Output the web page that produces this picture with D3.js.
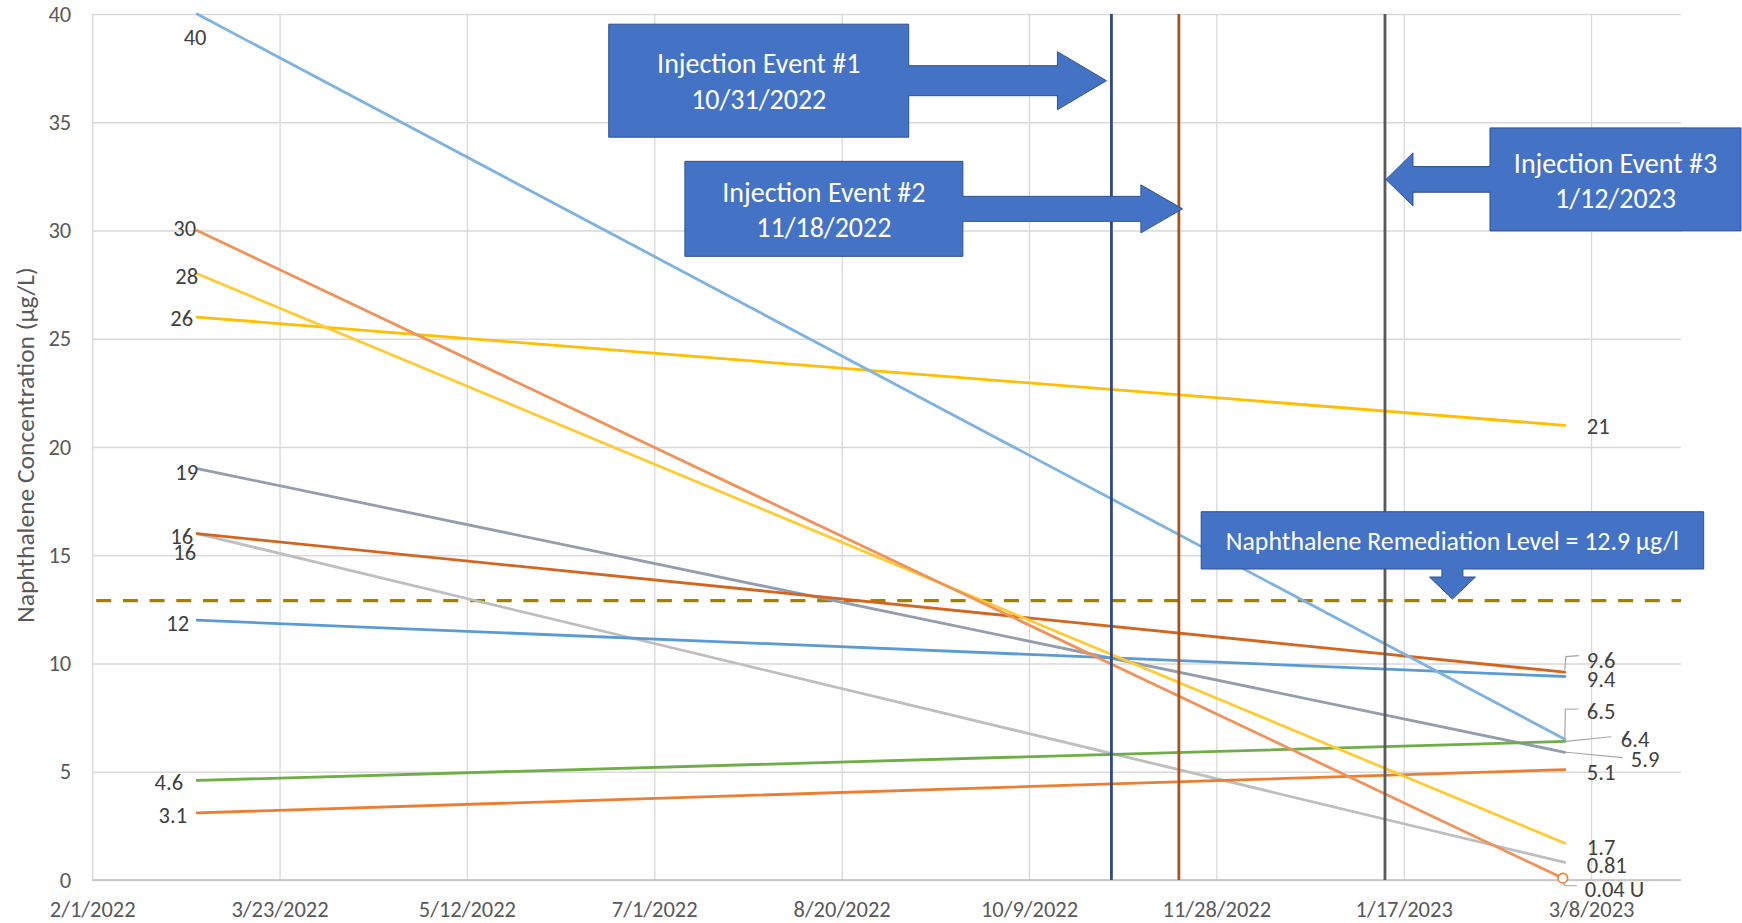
<!DOCTYPE html>
<html>
<head>
<meta charset="utf-8">
<script src="https://cdn.jsdelivr.net/npm/d3@7"></script>
<style>
  html, body { margin: 0; padding: 0; background: #fff; }
  svg { display: block; font-family: Calibri, Lato, "Open Sans", sans-serif; }
</style>
</head>
<body>
<svg id="chart" width="1742" height="923"></svg>
<script>
// ---- data ----
const xTickLabels = ["2/1/2022", "3/23/2022", "5/12/2022", "7/1/2022", "8/20/2022",
                     "10/9/2022", "11/28/2022", "1/17/2023", "3/8/2023"];
const xDomainDates = ["2/1/2022", "4/1/2023"];
const yTickValues = [0, 5, 10, 15, 20, 25, 30, 35, 40];
const sampleDates = ["3/1/2022", "3/1/2023"];
const firstValues = [40, 30, 28, 26, 19, 16, 16, 12, 4.6, 3.1];
const lastValues  = [6.5, 0.04, 1.7, 21, 5.9, 9.6, 0.81, 9.4, 6.4, 5.1];
const firstLabels = ["40", "30", "28", "26", "19", "16", "16", "12", "4.6", "3.1"];
const lastLabels  = ["6.5", "0.04 U", "1.7", "21", "5.9", "9.6", "0.81", "9.4", "6.4", "5.1"];
const injectionDates  = ["10/31/2022", "11/18/2022", "1/12/2023"];
const injectionTitles = ["Injection Event #1", "Injection Event #2", "Injection Event #3"];
const remediationLevel = 12.9;
const remediationText = "Naphthalene Remediation Level = 12.9 µg/l";
const yAxisTitle = "Naphthalene Concentration (µg/L)";

// ---- styles ----
const lineColors = ["#7EB2E1", "#F0925A", "#FFCB33", "#FFBE00", "#929DB0",
                    "#D4651F", "#BEBEBE", "#5B9BD5", "#70AD47", "#ED7D31"];
const eventColors = ["#2E4A86", "#A8531B", "#595959"];
const tickFont = 22.5, labelFont = 22.5;
// label placement relative to each series' first / last point
const firstLabelPos = [
  { anchor: "middle", dx: -2, dy: 23 }, { anchor: "end", dx: -1, dy: -2.5 },
  { anchor: "end", dx: 1, dy: 2 },      { anchor: "end", dx: -4, dy: 1 },
  { anchor: "end", dx: 1, dy: 3 },      { anchor: "end", dx: -4, dy: 2.5 },
  { anchor: "end", dx: -1, dy: 18 },    { anchor: "end", dx: -8, dy: 3 },
  { anchor: "end", dx: -14, dy: 1 },    { anchor: "end", dx: -10, dy: 2 }
];
const lastLabelPos = [
  { dx: 22, dy: -28, leader: [[0, 0], [0.5, -30], [14, -30.3]] },
  { dx: 20, dy: 10, leader: [[-2, 4], [0, 6.6], [12, 6.6]] },
  { dx: 22, dy: 4 },
  { dx: 22, dy: 1 },
  { dx: 66, dy: 7, leader: [[1, 0], [58, 5.4]] },
  { dx: 22, dy: -12, leader: [[0, -2], [1, -15.5], [14, -16.5]] },
  { dx: 22, dy: 2.5 },
  { dx: 22, dy: 2.5 },
  { dx: 56, dy: -3, leader: [[1, 0], [46.5, -4.7]] },
  { dx: 22, dy: 2.5 }
];
const calloutLayout = [
  { dir: "right", dx: -5,  tipValue: 36.92, boxW: 300, boxH: 113, gap: 197.7, shaft: 15,    head: 29,   headLen: 49,   textDy: [-17.5, 18.5] },
  { dir: "right", dx: 3.6, tipValue: 31.0,  boxW: 278, boxH: 95,  gap: 219.6, shaft: 12.5,  head: 24,   headLen: 41.6, textDy: [-16.5, 18.5] },
  { dir: "left",  dx: 1,   tipValue: 32.36, boxW: 251, boxH: 103, gap: 104,   shaft: 12.85, head: 26.5, headLen: 27,   textDy: [-16.8, 18.2] }
];
const remediationCallout = { date: "1/30/2023", dy: -1.7, boxW: 502.5, boxH: 57.3, gap: 30, shaft: 10.5, head: 23, headLen: 22 };

// ---- setup ----
const parse = d3.utcParse("%m/%d/%Y");
const svg = d3.select("#chart");
const plot = { left: 92.2, right: 1681, top: 14, bottom: 880 };

const x = d3.scaleUtc().domain(xDomainDates.map(parse)).range([plot.left, plot.right]);
const y = d3.scaleLinear().domain([0, 40]).range([plot.bottom, plot.top]);

svg.append("rect").attr("width", 1742).attr("height", 923).attr("fill", "#fff");

// y gridlines + tick labels
const yAxis = svg.append("g")
  .attr("transform", `translate(${plot.left},0)`)
  .call(d3.axisLeft(y).tickValues(yTickValues).tickSizeInner(-(plot.right - plot.left))
    .tickSizeOuter(0).tickPadding(21));
yAxis.select(".domain").remove();
yAxis.selectAll(".tick line").attr("stroke", "#D9D9D9").attr("stroke-width", 1.3);
yAxis.selectAll(".tick text").attr("fill", "#595959").attr("font-size", tickFont)
  .attr("font-family", "Calibri, Lato, 'Open Sans', sans-serif");

// x gridlines + tick labels
const tickDates = xTickLabels.map(parse);
const xAxis = svg.append("g")
  .attr("transform", `translate(0,${plot.bottom})`)
  .call(d3.axisBottom(x).tickValues(tickDates).tickSizeInner(-(plot.bottom - plot.top))
    .tickSizeOuter(0).tickPadding(21).tickFormat((d, i) => xTickLabels[i]));
xAxis.select(".domain").remove();
xAxis.selectAll(".tick line").attr("stroke", "#D9D9D9").attr("stroke-width", 1.3);
xAxis.selectAll(".tick text").attr("fill", "#595959").attr("font-size", tickFont)
  .attr("font-family", "Calibri, Lato, 'Open Sans', sans-serif");

// category axis baseline
svg.append("line")
  .attr("x1", plot.left).attr("x2", plot.right)
  .attr("y1", y(0)).attr("y2", y(0))
  .attr("stroke", "#BFBFBF").attr("stroke-width", 1.4);

// y axis title
svg.append("text")
  .attr("transform", `translate(25,445) rotate(-90)`)
  .attr("text-anchor", "middle").attr("dy", "0.36em")
  .attr("fill", "#595959").attr("font-size", 25.5)
  .text(yAxisTitle);

// remediation level (dashed)
svg.append("line")
  .attr("x1", plot.left).attr("x2", plot.right)
  .attr("y1", y(remediationLevel)).attr("y2", y(remediationLevel))
  .attr("stroke", "#A57F00").attr("stroke-width", 3.2)
  .attr("stroke-dasharray", "15 11.7").attr("stroke-dashoffset", -4);

// concentration trend lines
const t0 = parse(sampleDates[0]), t1 = parse(sampleDates[1]);
const series = firstValues.map((v, i) => [{ t: t0, v }, { t: t1, v: lastValues[i] }]);
const line = d3.line().x(d => x(d.t)).y(d => y(d.v));
const drawOrder = [6, 4, 5, 7, 8, 9, 3, 2, 1, 0];
svg.append("g").selectAll("path").data(drawOrder).join("path")
  .attr("d", i => line(series[i]))
  .attr("fill", "none")
  .attr("stroke", i => lineColors[i])
  .attr("stroke-width", 2.8)
  .attr("stroke-linecap", "round");

// non-detect marker
svg.append("circle")
  .attr("cx", x(t1) - 2).attr("cy", y(lastValues[1]) - 1)
  .attr("r", 4.8).attr("fill", "#fff")
  .attr("stroke", lineColors[9]).attr("stroke-width", 1.6);

// injection event lines
svg.append("g").selectAll("line").data(injectionDates).join("line")
  .attr("x1", d => x(parse(d))).attr("x2", d => x(parse(d)))
  .attr("y1", plot.top).attr("y2", plot.bottom)
  .attr("stroke", (d, i) => eventColors[i]).attr("stroke-width", 2.8);

// data labels
svg.append("g").selectAll("text").data(firstValues).join("text")
  .attr("x", (d, i) => x(t0) + firstLabelPos[i].dx)
  .attr("y", (d, i) => y(d) + firstLabelPos[i].dy)
  .attr("dy", "0.36em")
  .attr("text-anchor", (d, i) => firstLabelPos[i].anchor)
  .attr("font-size", labelFont).attr("fill", "#404040")
  .text((d, i) => firstLabels[i]);

svg.append("g").selectAll("text").data(lastValues).join("text")
  .attr("x", (d, i) => x(t1) + lastLabelPos[i].dx)
  .attr("y", (d, i) => y(d) + lastLabelPos[i].dy)
  .attr("dy", "0.36em")
  .attr("font-size", labelFont).attr("fill", "#404040")
  .text((d, i) => lastLabels[i]);

svg.append("g").selectAll("polyline")
  .data(lastValues.map((v, i) => ({ v, p: lastLabelPos[i] })).filter(d => d.p.leader))
  .join("polyline")
  .attr("points", d => d.p.leader.map(([dx, dy]) => [x(t1) + dx, y(d.v) + dy].join(",")).join(" "))
  .attr("fill", "none").attr("stroke", "#A6A6A6").attr("stroke-width", 1.2);

// callouts
function calloutPoints(c, tx, ty) {
  if (c.dir === "down") {
    const bb = ty - c.gap, bt = bb - c.boxH, l = tx - c.boxW / 2, r = tx + c.boxW / 2, hb = ty - c.headLen;
    return [[l, bt], [r, bt], [r, bb], [tx + c.shaft, bb], [tx + c.shaft, hb], [tx + c.head, hb],
            [tx, ty], [tx - c.head, hb], [tx - c.shaft, hb], [tx - c.shaft, bb], [l, bb]];
  }
  const s = c.dir === "right" ? -1 : 1;
  const near = tx + s * c.gap, far = near + s * c.boxW;
  const top = ty - c.boxH / 2, bot = ty + c.boxH / 2, hb = tx + s * c.headLen;
  return [[far, top], [near, top], [near, ty - c.shaft], [hb, ty - c.shaft], [hb, ty - c.head],
          [tx, ty], [hb, ty + c.head], [hb, ty + c.shaft], [near, ty + c.shaft], [near, bot], [far, bot]];
}

const calloutG = svg.append("g");
injectionDates.forEach((d, i) => {
  const c = calloutLayout[i];
  const tx = x(parse(d)) + c.dx, ty = y(c.tipValue);
  const pts = calloutPoints(c, tx, ty);
  calloutG.append("path")
    .attr("d", "M" + pts.map(p => p.join(",")).join("L") + "Z")
    .attr("fill", "#4472C4").attr("stroke", "#2F528F").attr("stroke-width", 1);
  const cx = c.dir === "right" ? tx - c.gap - c.boxW / 2 : tx + c.gap + c.boxW / 2;
  const lines = [injectionTitles[i], d];
  lines.forEach((t, k) => {
    calloutG.append("text")
      .attr("x", cx).attr("y", ty + c.textDy[k]).attr("dy", "0.36em")
      .attr("text-anchor", "middle").attr("fill", "#fff").attr("font-size", 28)
      .text(t);
  });
});

{
  const c = Object.assign({ dir: "down" }, remediationCallout);
  const tx = x(parse(c.date)), ty = y(remediationLevel) + c.dy;
  const pts = calloutPoints(c, tx, ty);
  calloutG.append("path")
    .attr("d", "M" + pts.map(p => p.join(",")).join("L") + "Z")
    .attr("fill", "#4472C4").attr("stroke", "#2F528F").attr("stroke-width", 1);
  calloutG.append("text")
    .attr("x", tx).attr("y", ty - c.gap - c.boxH / 2).attr("dy", "0.36em")
    .attr("text-anchor", "middle").attr("fill", "#fff").attr("font-size", 25.8)
    .text(remediationText);
}
</script>
</body>
</html>
